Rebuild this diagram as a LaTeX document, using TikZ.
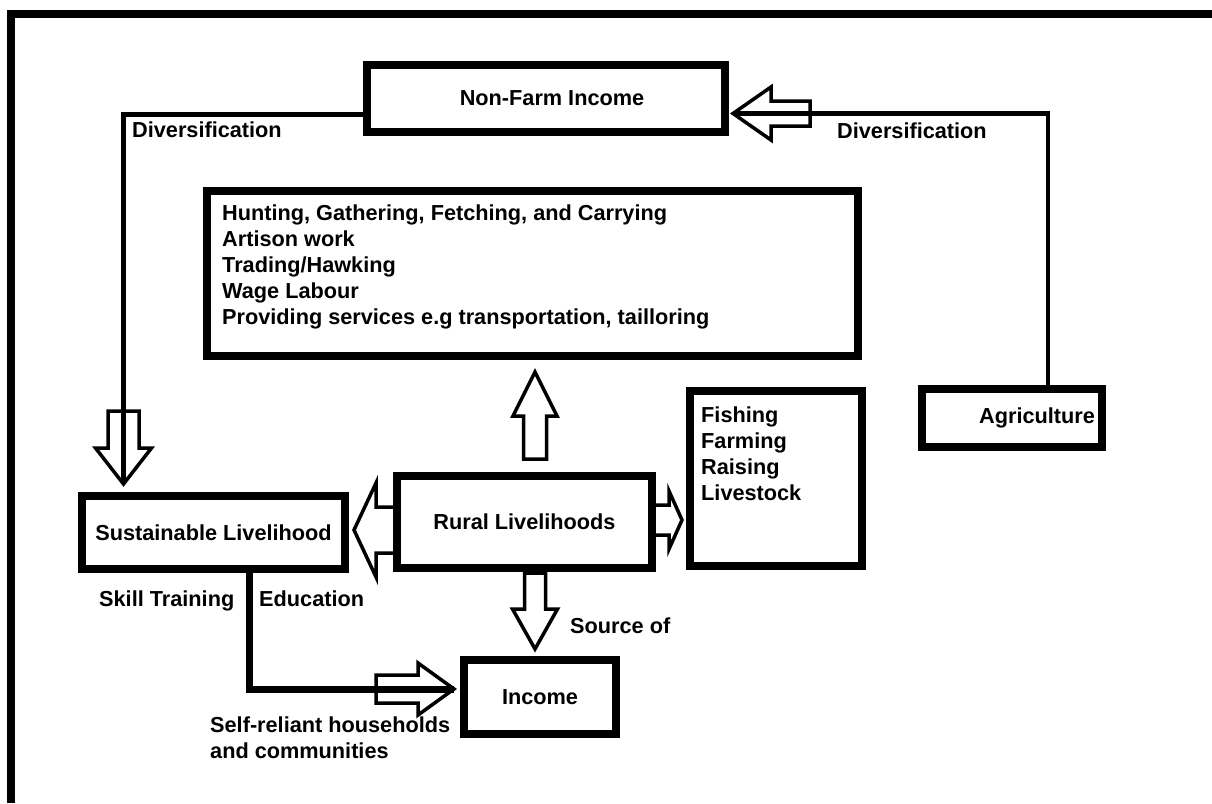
\documentclass[tikz,border=0pt]{standalone}
\usepackage{fontspec}
\setmainfont{Liberation Sans}
\usetikzlibrary{calc}
\newcommand\diagfont{\fontsize{21.7}{26}\selectfont\bfseries}
\def\hollowarrow[#1](#2)(#3:#4:#5:#6:#7){\draw[#1,shift={(#2)},rotate=#3] (0,0) -- (-#5,#6) -- (-#5,#7) -- (-#4,#7) -- (-#4,-#7) -- (-#5,-#7) -- (-#5,-#6) -- cycle;}
\tikzset{
	box/.style={draw, line width=8pt, inner sep=0pt, font=\diagfont},
	lbl/.style={inner sep=0pt, font=\diagfont},
	link/.style={line width=4.5pt},
	trunk/.style={line width=7pt},
	fat/.style={line width=3.5pt, line join=miter}
}

\begin{document}
\begin{tikzpicture}[x=1pt,y=1pt]
			%%%%% START %%%%%
			\useasboundingbox (0,0) rectangle (1212,-803);
			\draw[line width=8pt] (11,-803) -- (11,-14) -- (1212,-14);
			
			\node[box, minimum width=358pt, minimum height=67pt] (nonfarm) at (546,-98.5) {\hspace*{12pt}Non-Farm Income};
			\node[box, minimum width=651pt, minimum height=165pt] (acts) at (532.5,-273.5) {};
			\node[box, minimum width=172pt, minimum height=175pt] (fish) at (776,-478.5) {};
			\node[box, minimum width=180pt, minimum height=58pt] (agri) at (1012,-418) {\hspace*{50pt}Agriculture};
			\node[box, minimum width=255pt, minimum height=92pt] (rural) at (524.5,-522) {Rural Livelihoods};
			\node[box, minimum width=263pt, minimum height=73pt] (sust) at (213.5,-532.5) {Sustainable Livelihood};
			\node[box, minimum width=152pt, minimum height=74pt] (income) at (540,-697) {Income};
			
			\node[lbl, anchor=north west, align=left] (actlist) at (222,-205) {Hunting, Gathering, Fetching, and Carrying\\Artison work\\Trading/Hawking\\Wage Labour\\Providing services e.g transportation, tailloring};
			\node[lbl, anchor=north west, align=left] (fishlist) at (701,-407) {Fishing\\Farming\\Raising\\Livestock};
			
			\node[lbl, anchor=base west] (divL) at (132,-137) {Diversification};
			\node[lbl, anchor=base west] (divR) at (837,-138) {Diversification};
			\node[lbl, anchor=base west] (skill) at (99,-606) {Skill Training};
			\node[lbl, anchor=base west] (edu) at (259,-606) {Education};
			\node[lbl, anchor=base west] (src) at (570,-633) {Source of};
			\node[lbl, anchor=north west, align=left] (selfrel) at (210,-717) {Self-reliant households\\and communities};
			
			\coordinate (nfout) at ([yshift=-16pt]nonfarm.west);
			\coordinate (sustin) at ([shift={(-90pt,8pt)}]sust.north);
			\coordinate (nfin) at ([shift={(4pt,-15pt)}]nonfarm.east);
			\coordinate (upTip) at ([shift={(2.5pt,-12pt)}]acts.south);
			\coordinate (dnTip) at ([shift={(-5pt,7pt)}]income.north);
			\coordinate (lfTip) at ([shift={(5pt,2.5pt)}]sust.east);
			\coordinate (rtTip) at ([shift={(-4pt,-41.5pt)}]fish.west);
			\coordinate (inTip) at ([shift={(-6pt,8pt)}]income.west);
			
			\draw[link] (nfout) -| (sustin);
			\draw[link] ([xshift=36pt]agri.north) |- (nfin);
			\draw[trunk] ([xshift=35.5pt]sust.south) |- (inTip);
			
			\hollowarrow[fat](sustin)(-90:73:36:28:15.5);
			\hollowarrow[fat](nfin)(180:77:38:26.5:12.5);
			\hollowarrow[fat](upTip)(90:87:44:22:11.5);
			\hollowarrow[fat](dnTip)(-90:76:40:22.5:10.5);
			\hollowarrow[fat](lfTip)(180:43:22:47:23);
			\hollowarrow[fat](rtTip)(0:28:13:29:15);
			\hollowarrow[fat](inTip)(0:78:36:26:14);
			%%%%% END %%%%%
		\end{tikzpicture}
\end{document}
